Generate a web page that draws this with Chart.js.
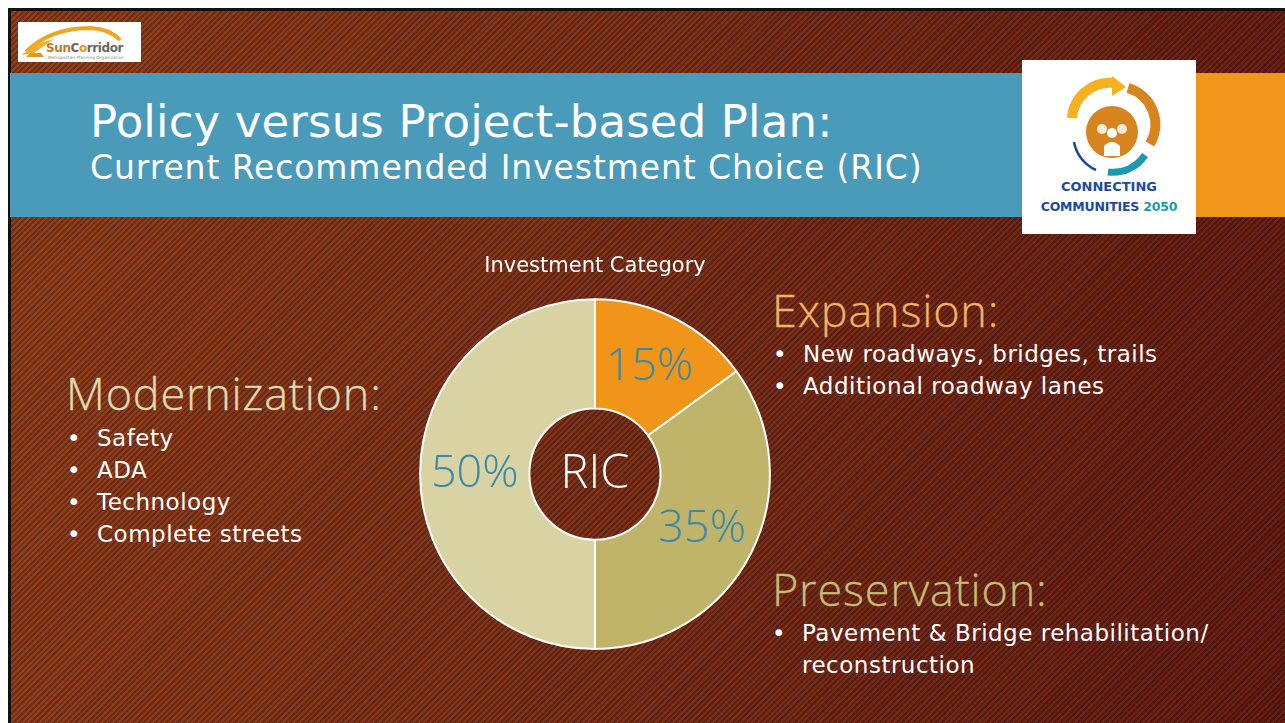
<!DOCTYPE html>
<html>
<head>
<meta charset="utf-8">
<script src="https://cdn.jsdelivr.net/npm/chart.js@4"></script>
<style>
    html, body { margin: 0; padding: 0; background: #fff; }
    body { width: 1285px; height: 723px; position: relative; overflow: hidden; font-family: "DejaVu Sans", Tahoma, sans-serif; }
    .slide {
        position: absolute; left: 8px; top: 8px; right: 0; bottom: 0;
        border-left: 3px solid #111; border-top: 3px solid #111;
        background:
            repeating-linear-gradient(135deg, rgba(0,0,0,0.2) 0 2px, rgba(255,150,90,0.06) 2px 4px),
            linear-gradient(100deg, #8c3b19 0%, #7a2f16 40%, #5e1810 100%);
    }
    .abs { position: absolute; }
    .banner { left: 10px; top: 73px; width: 1012px; height: 144px; background: #4a9aba; }
    .orangebar { left: 1196px; top: 73px; width: 89px; height: 144px; background: #f0961a; }
    .title { left: 90px; top: 95px; color: #fff; font-size: 45px; white-space: nowrap; letter-spacing: 0.15px; }
    .subtitle { left: 90px; top: 148px; color: #fff; font-size: 33px; white-space: nowrap; letter-spacing: 0.9px; }
    .head { font-family: "Open Sans", sans-serif; font-weight: 300; font-size: 45px; white-space: nowrap; letter-spacing: 0.8px; -webkit-text-stroke: 0.3px currentColor; }
    .bullets { color: #fff; font-size: 23px; line-height: 32px; white-space: nowrap; letter-spacing: 0.5px; }
    .bullets div { position: relative; padding-left: 30px; }
    .bullets div.b::before { content: "\2022"; position: absolute; left: 0; }
    #chartBox { position: absolute; left: 380px; top: 250px; width: 430px; height: 400px; }
</style>
</head>
<body>
<div class="slide"></div>

<!-- SunCorridor logo -->
<svg class="abs" style="left:18px;top:22px" width="123" height="40">
    <rect width="123" height="40" fill="#fff"/>
    <path d="M8 30 Q32 6 72 6 Q92 7 102 18" stroke="#f2a41c" stroke-width="4" fill="none"/>
    <path d="M3 33 L22 21 L36 17 L16 31 Z" fill="#f0b030"/>
    <path d="M8 35 L26 35 L23 31 L12 31 Z" fill="#e8961a"/>
    <text x="28" y="30" font-family="DejaVu Sans" font-weight="bold" font-size="12" letter-spacing="-0.4"><tspan fill="#c8761e">Sun</tspan><tspan fill="#666">C</tspan><tspan fill="#e8961a">o</tspan><tspan fill="#666">rridor</tspan></text>
    <text x="30" y="37" font-family="DejaVu Sans" font-size="4.3" fill="#888">Metropolitan Planning Organization</text>
</svg>

<div class="abs banner"></div>
<div class="abs orangebar"></div>
<div class="abs title">Policy versus Project-based Plan:</div>
<div class="abs subtitle">Current Recommended Investment Choice (RIC)</div>

<!-- Connecting Communities logo -->
<svg class="abs" style="left:1022px;top:60px" width="174" height="174">
    <rect width="174" height="174" fill="#fff"/>
    <path d="M50 58 A38 38 0 0 1 92 23" stroke="#f7b01e" stroke-width="10" fill="none"/>
    <path d="M90 16 L104 27 L90 36 Z" fill="#f7b01e"/>
    <path d="M106 28 A38 38 0 0 1 128 84" stroke="#d8841e" stroke-width="10" fill="none"/>
    <path d="M123 95 A38 38 0 0 1 86 112" stroke="#1a9ab0" stroke-width="7" fill="none"/>
    <path d="M74 110 A38 38 0 0 1 52 82" stroke="#1a4aa0" stroke-width="2.5" fill="none"/>
    <circle cx="90" cy="72" r="26" fill="#d8841e"/>
    <circle cx="80" cy="69" r="5" fill="#fff" opacity="0.85"/>
    <circle cx="100" cy="69" r="5" fill="#fff" opacity="0.85"/>
    <circle cx="90" cy="73" r="5" fill="#fff"/>
    <path d="M82 96 L82 86 Q90 78 98 86 L98 96" fill="#fff"/>
    <text x="87" y="131" text-anchor="middle" font-family="DejaVu Sans" font-weight="bold" font-size="13" fill="#1a4aa0">CONNECTING</text>
    <text x="87" y="151" text-anchor="middle" font-family="DejaVu Sans" font-weight="bold" font-size="12.5" letter-spacing="-0.2"><tspan fill="#1a4aa0">COMMUNITIES </tspan><tspan fill="#1a9ab0">2050</tspan></text>
</svg>

<!-- Side text -->
<div class="abs head" style="left:66px;top:362px;color:#e2dab4">Modernization:</div>
<div class="abs bullets" style="left:67px;top:422px">
    <div class="b">Safety</div>
    <div class="b">ADA</div>
    <div class="b">Technology</div>
    <div class="b">Complete streets</div>
</div>

<div class="abs head" style="left:772px;top:279px;color:#f2b368">Expansion:</div>
<div class="abs bullets" style="left:773px;top:338px">
    <div class="b">New roadways, bridges, trails</div>
    <div class="b">Additional roadway lanes</div>
</div>

<div class="abs head" style="left:772px;top:558px;color:#c9bd78">Preservation:</div>
<div class="abs bullets" style="left:772px;top:617px">
    <div class="b">Pavement &amp; Bridge rehabilitation/</div>
    <div>reconstruction</div>
</div>

<div id="chartBox"><canvas id="ricChart"></canvas></div>

<script>
    // Investment split for the current RIC
    const categories = ["Expansion", "Preservation", "Modernization"];
    const shares = [15, 35, 50];
    const sliceColors = ["#f0951a", "#c0b46a", "#d9d2a3"];
    const centerLabel = "RIC";

    // Draws the % labels on each slice plus the center text
    const sliceLabels = {
        id: "sliceLabels",
        afterDatasetsDraw(chart) {
            const { ctx } = chart;
            const meta = chart.getDatasetMeta(0);
            ctx.save();
            ctx.textAlign = "center";
            ctx.textBaseline = "middle";
            ctx.font = "300 45px 'Open Sans', sans-serif";
            ctx.fillStyle = "#3a88a8";
            meta.data.forEach((arc, i) => {
                const pos = arc.tooltipPosition();
                ctx.fillText(shares[i] + "%", pos.x, pos.y);
            });
            const c = meta.data[0];
            ctx.fillStyle = "#fff";
            ctx.font = "300 47px 'Open Sans', sans-serif";
            ctx.fillText(centerLabel, c.x, c.y + 1);
            ctx.restore();
        }
    };

    new Chart(document.getElementById("ricChart"), {
        type: "doughnut",
        data: {
            labels: categories,
            datasets: [
                {
                    data: shares,
                    backgroundColor: sliceColors,
                    borderColor: "#ffffff",
                    borderWidth: 2,
                },
            ],
        },
        options: {
            responsive: true,
            maintainAspectRatio: false,
            animation: false,
            cutout: "37.5%",
            layout: { padding: 0 },
            plugins: {
                legend: { display: false },
                tooltip: { enabled: false },
                title: {
                    display: true,
                    text: "Investment Category",
                    color: "#ffffff",
                    font: { family: "DejaVu Sans", size: 21, weight: "normal" },
                    padding: { top: 4, bottom: 19 },
                },
            },
        },
        plugins: [sliceLabels],
    });
</script>
</body>
</html>
